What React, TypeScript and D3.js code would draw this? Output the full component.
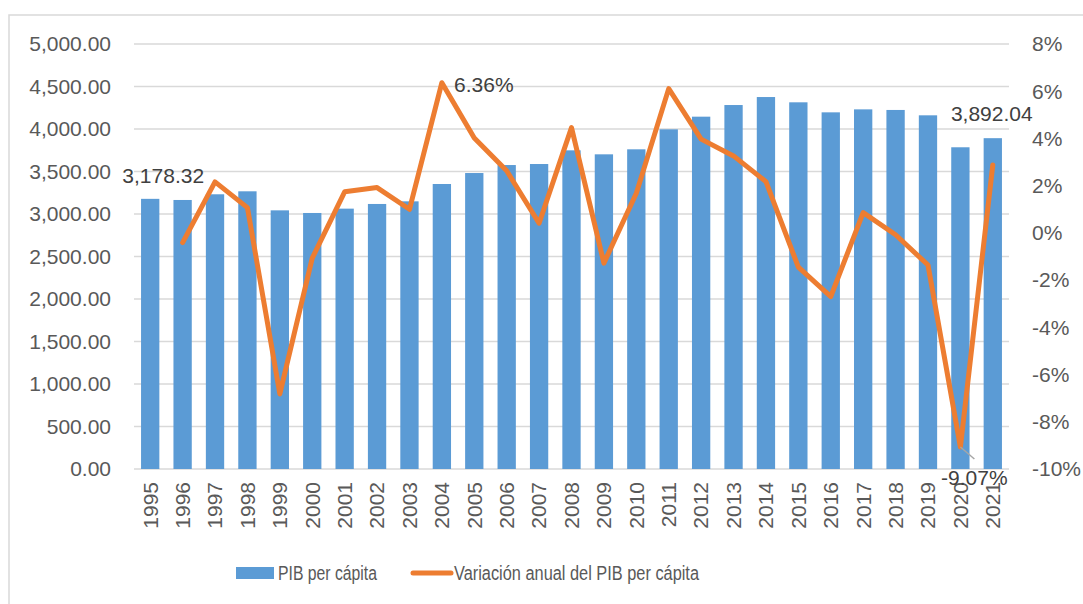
import React from "react";
import * as d3 from "d3";

const years = [
  "1995","1996","1997","1998","1999","2000","2001","2002","2003","2004","2005","2006","2007","2008",
  "2009","2010","2011","2012","2013","2014","2015","2016","2017","2018","2019","2020","2021",
];
const pibPerCapita = [
  3178.32, 3165, 3232, 3267, 3043, 3012, 3063, 3118, 3149, 3353, 3482, 3576, 3588, 3749,
  3702, 3761, 3996, 4145, 4282, 4376, 4314, 4196, 4231, 4224, 4161, 3785, 3892.04,
];
// annual variation in %, 1995 has no value
const variacion: (number | null)[] = [
  null, -0.41, 2.16, 1.07, -6.82, -1.07, 1.74, 1.92, 1.0, 6.36, 4.02, 2.63, 0.41, 4.46,
  -1.28, 1.68, 6.11, 3.97, 3.26, 2.17, -1.45, -2.70, 0.86, -0.08, -1.36, -9.07, 2.88,
];
const leftTicks = [0, 500, 1000, 1500, 2000, 2500, 3000, 3500, 4000, 4500, 5000];
const rightTicks = [-10, -8, -6, -4, -2, 0, 2, 4, 6, 8];
const legendLabels = ["PIB per cápita", "Variación anual del PIB per cápita"];

const W = 1083;
const H = 604;
const plot = { left: 134, right: 1009, top: 44, bottom: 469 };
const FONT = "'Liberation Sans', Arial, sans-serif";
const TXT = "#595959";
const BLUE = "#5B9BD5";
const ORANGE = "#ED7D31";
const GRID = "#D9D9D9";

export default function App() {
  const x = d3.scaleBand<string>().domain(years).range([plot.left, plot.right]).paddingInner(0.435).paddingOuter(0.2175);
  const yL = d3.scaleLinear().domain([0, 5000]).range([plot.bottom, plot.top]);
  const yR = d3.scaleLinear().domain([-10, 8]).range([plot.bottom, plot.top]);
  const fmtL = d3.format(",.2f");
  const cx = (yr: string) => (x(yr) as number) + x.bandwidth() / 2;

  const lineGen = d3
    .line<number | null>()
    .defined((d) => d !== null)
    .x((_, i) => cx(years[i]))
    .y((d) => yR(d as number));

  const last = years.length - 1;
  const i2004 = years.indexOf("2004");
  const i2020 = years.indexOf("2020");

  return (
    <svg width={W} height={H} style={{ position: "absolute", left: 0, top: 0 }} fontFamily={FONT}>
      <rect x={0} y={0} width={W} height={H} fill="#fff" />
      <rect x={9} y={15} width={W + 20} height={H + 20} fill="none" stroke={GRID} strokeWidth={1.5} />
      {leftTicks.map((t) => (
        <line key={"g" + t} x1={plot.left} x2={plot.right} y1={yL(t)} y2={yL(t)} stroke={GRID} strokeWidth={1.5} />
      ))}
      {leftTicks.map((t) => (
        <text key={"l" + t} x={111} y={yL(t)} dy="0.35em" textAnchor="end" fontSize={21} fill={TXT}>
          {fmtL(t)}
        </text>
      ))}
      {rightTicks.map((t) => (
        <text key={"r" + t} x={1032} y={yR(t)} dy="0.35em" textAnchor="start" fontSize={21} fill={TXT}>
          {t + "%"}
        </text>
      ))}
      {years.map((yr, i) => (
        <rect key={"b" + yr} x={x(yr)} y={yL(pibPerCapita[i])} width={x.bandwidth()} height={plot.bottom - yL(pibPerCapita[i])} fill={BLUE} />
      ))}
      {years.map((yr) => (
        <text key={"x" + yr} transform={`translate(${cx(yr)},${plot.bottom + 13}) rotate(-90)`} dy="0.35em" textAnchor="end" fontSize={21} fill={TXT}>
          {yr}
        </text>
      ))}
      <path d={lineGen(variacion) || ""} fill="none" stroke={ORANGE} strokeWidth={5} strokeLinejoin="round" strokeLinecap="round" />
      {/* data labels */}
      <text x={cx(years[0]) + 13} y={yL(pibPerCapita[0]) - 23} dy="0.35em" textAnchor="middle" fontSize={21} fill="#404040">
        {fmtL(pibPerCapita[0])}
      </text>
      <text x={cx(years[last]) - 1} y={yL(pibPerCapita[last]) - 25} dy="0.35em" textAnchor="middle" fontSize={21} fill="#404040">
        {fmtL(pibPerCapita[last])}
      </text>
      <text x={cx(years[i2004]) + 42} y={yR(variacion[i2004] as number) + 2} dy="0.35em" textAnchor="middle" fontSize={21} fill="#404040">
        {(variacion[i2004] as number).toFixed(2) + "%"}
      </text>
      <line x1={cx(years[i2020])} y1={yR(variacion[i2020] as number)} x2={cx(years[i2020]) + 14} y2={yR(variacion[i2020] as number) + 12} stroke="#A6A6A6" strokeWidth={1.5} />
      <text x={cx(years[i2020]) + 14} y={yR(variacion[i2020] as number) + 31} dy="0.35em" textAnchor="middle" fontSize={21} fill="#404040">
        {(variacion[i2020] as number).toFixed(2) + "%"}
      </text>
      {/* legend */}
      <rect x={236} y={567} width={38} height={12} fill={BLUE} />
      <text x={278} y={573} dy="0.35em" fontSize={20} fill={TXT} textLength={99} lengthAdjust="spacingAndGlyphs">{legendLabels[0]}</text>
      <line x1={413} x2={451} y1={573} y2={573} stroke={ORANGE} strokeWidth={5} strokeLinecap="round" />
      <text x={454} y={573} dy="0.35em" fontSize={20} fill={TXT} textLength={245} lengthAdjust="spacingAndGlyphs">{legendLabels[1]}</text>
    </svg>
  );
}
